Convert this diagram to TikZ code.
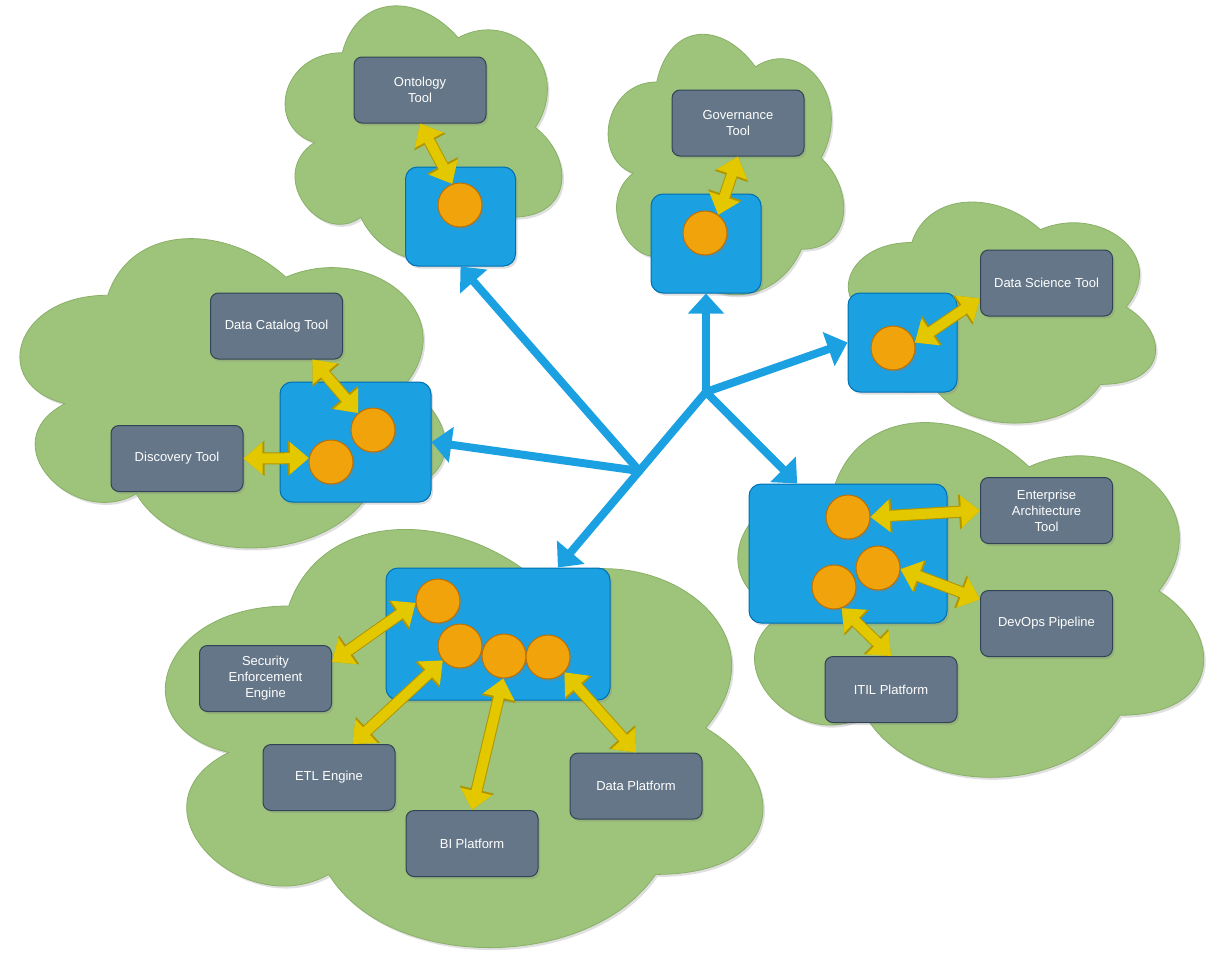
\documentclass[tikz,border=0pt]{standalone}
\usepackage{fontspec}
\setmainfont{Liberation Sans}
\usepackage{tikz}
\usetikzlibrary{arrows.meta,calc,shadows}
\usepackage{xcolor}
\definecolor{cloudgreen}{RGB}{157,196,122}
\definecolor{cloudedge}{RGB}{136,176,102}
\definecolor{toolgray}{RGB}{100,118,135}
\definecolor{tooledge}{RGB}{49,67,84}
\definecolor{hubblue}{RGB}{27,161,226}
\definecolor{hubedge}{RGB}{0,110,175}
\definecolor{portorange}{RGB}{240,163,10}
\definecolor{portedge}{RGB}{189,112,0}
\definecolor{linkyellow}{RGB}{227,200,0}
\definecolor{linkedge}{RGB}{176,149,0}
\newcommand{\pxfont}{\fontsize{13}{16}\selectfont}
% draw.io style cloud: corner x, corner y, width, height
\newcommand{\cloudat}[4]{%
  \path[cloudsty] ({#1+0.25*#3},{#2+0.25*#4})
    .. controls ({#1+0.05*#3},{#2+0.25*#4}) and ({#1},{#2+0.5*#4}) .. ({#1+0.16*#3},{#2+0.55*#4})
    .. controls ({#1},{#2+0.66*#4}) and ({#1+0.18*#3},{#2+0.9*#4}) .. ({#1+0.31*#3},{#2+0.8*#4})
    .. controls ({#1+0.4*#3},{#2+#4}) and ({#1+0.7*#3},{#2+#4}) .. ({#1+0.8*#3},{#2+0.8*#4})
    .. controls ({#1+#3},{#2+0.8*#4}) and ({#1+#3},{#2+0.6*#4}) .. ({#1+0.875*#3},{#2+0.5*#4})
    .. controls ({#1+#3},{#2+0.3*#4}) and ({#1+0.8*#3},{#2+0.1*#4}) .. ({#1+0.625*#3},{#2+0.2*#4})
    .. controls ({#1+0.5*#3},{#2+0.05*#4}) and ({#1+0.3*#3},{#2+0.05*#4}) .. ({#1+0.25*#3},{#2+0.25*#4})
    -- cycle;}
\tikzset{
    shadesty/.style={drop shadow={shadow xshift=2pt,shadow yshift=-2.5pt,opacity=0.25}},
    cloudsty/.style={fill=cloudgreen,draw=cloudedge,line width=0.8pt,shadesty},
    toolsty/.style={draw=tooledge,fill=toolgray,rounded corners=8pt,line width=1pt,minimum width=132pt,minimum height=66pt,text=white,align=center,font=\pxfont,shadesty},
    hubsty/.style={draw=hubedge,fill=hubblue,rounded corners=12pt,line width=1pt,shadesty},
    portsty/.style={circle,draw=portedge,fill=portorange,line width=1pt,minimum size=44pt,inner sep=0pt,shadesty},
    linksty/.style={draw=linkyellow,line width=10pt,arrows={Triangle[width=31pt,length=19pt]-Triangle[width=31pt,length=19pt]},
        preaction={draw=linkedge,line width=12pt,arrows={Triangle[width=34pt,length=21pt]-Triangle[width=34pt,length=21pt]}}},
    flowsty/.style={draw=hubblue,line width=8pt,line cap=round,arrows={-Triangle[width=35pt,length=20pt]}},
}

\begin{document}
\begin{tikzpicture}[x=1pt,y=-1pt]
\useasboundingbox (0,0) rectangle (1217,953);

% clouds
\cloudat{265}{-22}{309}{299}
\cloudat{591}{6}{263}{304}
\cloudat{826}{178}{343}{258}
\cloudat{-11}{205}{475}{361}
\cloudat{122}{484}{667}{488}
\cloudat{704}{384}{520}{414}

% blue hubs
\node[hubsty,minimum width=110pt,minimum height=99pt] (onbox) at (460.5,216.5) {};
\node[hubsty,minimum width=110pt,minimum height=99pt] (govbox) at (706,243.5) {};
\node[hubsty,minimum width=109pt,minimum height=99pt] (dsbox) at (902.5,342.5) {};
\node[hubsty,minimum width=151pt,minimum height=120pt] (discbox) at (355.5,442) {};
\node[hubsty,minimum width=224pt,minimum height=132pt] (databox) at (498,634) {};
\node[hubsty,minimum width=198pt,minimum height=139pt] (rbox) at (848,553.5) {};

% ports
\node[portsty] (onport) at (460,205) {};
\node[portsty] (govport) at (705,233) {};
\node[portsty] (dsport) at (893,348) {};
\node[portsty] (dcport) at (373,430) {};
\node[portsty] (discport) at (331,462) {};
\node[portsty] (dbport1) at (438,601) {};
\node[portsty] (dbport2) at (460,646) {};
\node[portsty] (dbport3) at (504,656) {};
\node[portsty] (dbport4) at (548,657) {};
\node[portsty] (rport1) at (848,517) {};
\node[portsty] (rport2) at (878,568) {};
\node[portsty] (rport3) at (834,587) {};

% tools
\node[toolsty] (ontool) at (420,90) {Ontology\\Tool};
\node[toolsty] (govtool) at (738,123) {Governance\\Tool};
\node[toolsty] (dstool) at (1046.5,283) {Data Science Tool};
\node[toolsty] (dctool) at (276.5,326) {Data Catalog Tool};
\node[toolsty] (disctool) at (177,458.5) {Discovery Tool};
\node[toolsty] (secengine) at (265.5,678.5) {Security\\Enforcement\\Engine};
\node[toolsty] (etlengine) at (329,777.5) {ETL Engine};
\node[toolsty] (biplat) at (472,843.5) {BI Platform};
\node[toolsty] (dataplat) at (636,786) {Data Platform};
\node[toolsty] (eatool) at (1046.5,510.5) {Enterprise\\Architecture\\Tool};
\node[toolsty] (devops) at (1046.5,623.5) {DevOps Pipeline};
\node[toolsty] (itil) at (891,689.5) {ITIL Platform};

% yellow links
\draw[linksty] (ontool.south) -- (onport.110);
\draw[linksty] (govtool.south) -- (govport.54);
\draw[linksty] (dstool.193) -- (dsport.14);
\draw[linksty] (dctool.317) -- (dcport.131);
\draw[linksty] (disctool.east) -- (discport.170);
\draw[linksty] (secengine.14) -- (dbport1.185);
\draw[linksty] (etlengine.55) -- (dbport2.220);
\draw[linksty] (biplat.north) -- (dbport3.268);
\draw[linksty] (dataplat.north) -- (dbport4.317);
\draw[linksty] (eatool.west) -- (rport1.east);
\draw[linksty] (devops.160) -- (rport2.357);
\draw[linksty] (itil.north) -- (rport3.290);

% blue flows
\coordinate (hub) at (706,392);
\coordinate (fork) at ($(hub)!0.45!(databox.48)$);
\draw[flowsty] (hub) -- (govbox.south);
\draw[flowsty] (hub) -- (dsbox.west);
\draw[flowsty] (hub) -- (rbox.126);
\draw[flowsty] (hub) -- (databox.48);
\draw[flowsty] (fork) -- (onbox.south);
\draw[flowsty] (fork) -- (discbox.east);
\end{tikzpicture}
\end{document}
